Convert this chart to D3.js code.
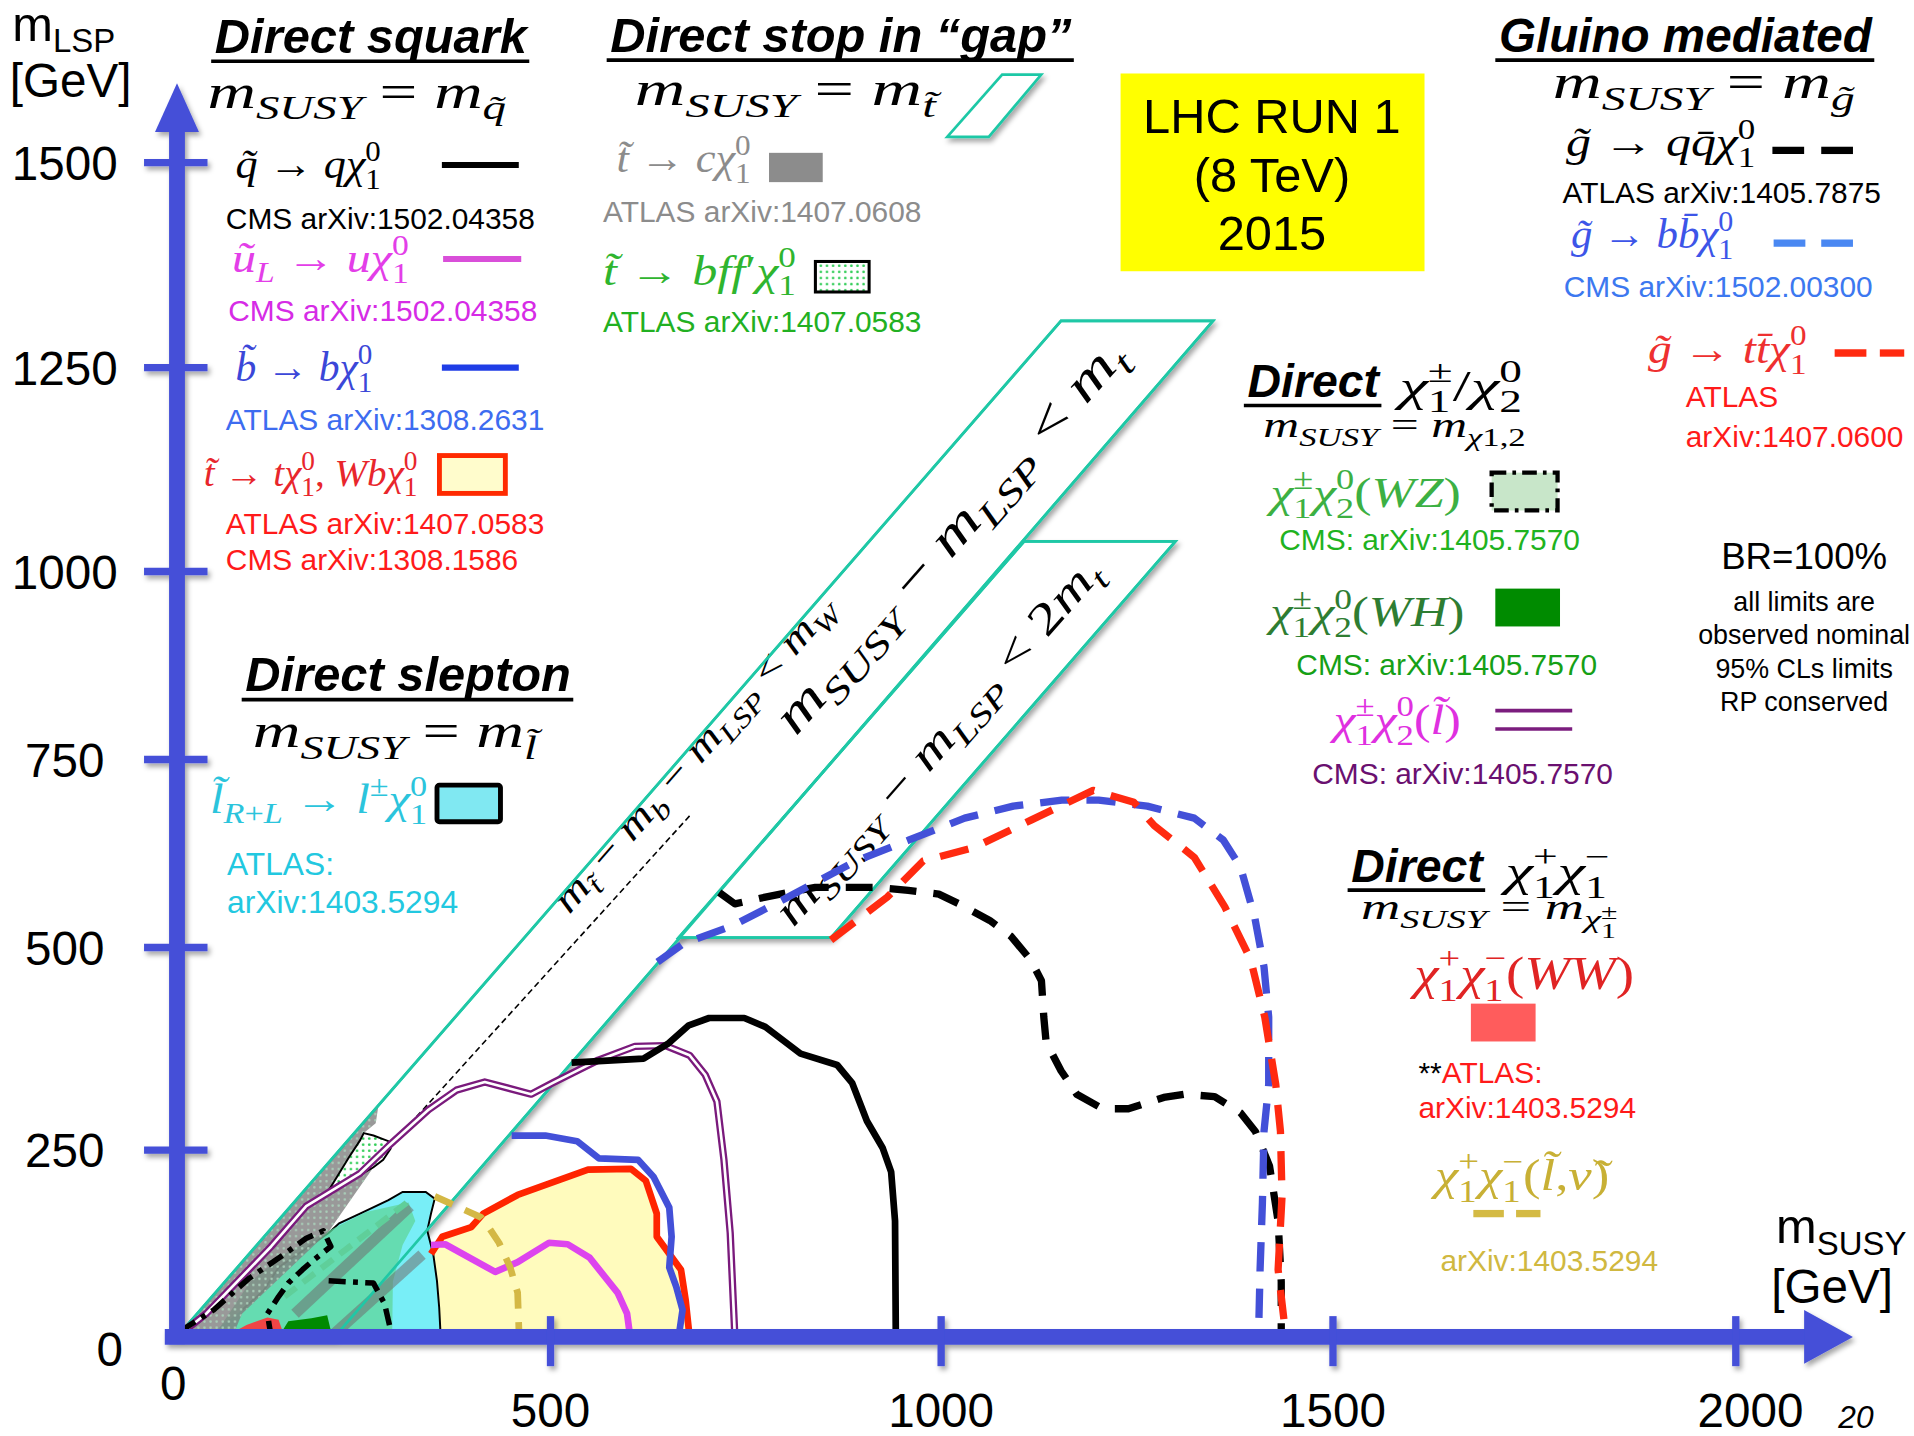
<!DOCTYPE html>
<html>
<head>
<meta charset="utf-8">
<script src="https://cdn.jsdelivr.net/npm/d3@7"></script>
<style>
  body { margin: 0; background: #fff; }
  text { white-space: pre; }
</style>
</head>
<body>
<script>
var svg_Width = 1914;
var svg_Height = 1436;

// axis ticks (GeV)
var xTicks = [0, 500, 1000, 1500, 2000];
var yTicks = [0, 250, 500, 750, 1000, 1250, 1500];

// limit contours, [m_SUSY, m_LSP] in GeV
var squarkQ = [[527,358],[619,363],[650,381],[677,404],[703,413],[748,413],[775,402],[820,369],[867,355],[886,333],[905,286],[925,253],[936,221],[941,155],[942,0]];
var squarkU = [[340,123],[359,124],[426,87],[456,100],[498,126],[522,124],[550,106],[586,59],[598,31],[602,0]];
var sbottom = [[448,268],[493,268],[534,261],[562,239],[612,237],[632,214],[652,173],[655,134],[652,93],[661,67],[669,36],[664,0]];
var stopT = [[340,111],[355,134],[394,147],[410,165],[456,190],[548,224],[603,225],[622,209],[636,165],[636,134],[667,90],[673,49],[678,0]];
var slepton = [[40,0],[87,36],[116,62],[136,93],[203,139],[217,152],[245,165],[283,183],[302,194],[333,194],[345,185],[340,165],[335,142],[343,111],[348,75],[351,39],[353,0]];
var gluinoQQ = [[716,573],[736,558],[775,567],[839,580],[918,580],[958,576],[997,571],[1023,558],[1062,536],[1089,515],[1114,485],[1128,459],[1131,414],[1134,383],[1153,348],[1173,319],[1206,301],[1239,301],[1284,315],[1310,319],[1349,316],[1382,296],[1401,273],[1419,229],[1430,155],[1434,74],[1434,0]];
var gluinoBB = [[637,482],[670,505],[733,529],[795,562],[889,614],[959,643],[1030,672],[1092,688],[1154,696],[1201,696],[1263,688],[1323,672],[1360,643],[1382,607],[1400,541],[1412,476],[1418,414],[1418,331],[1412,273],[1410,180],[1407,90],[1405,0]];
var gluinoTT = [[859,510],[892,536],[931,567],[977,615],[1042,633],[1114,669],[1194,709],[1246,693],[1272,662],[1323,620],[1362,554],[1395,485],[1413,414],[1427,331],[1433,273],[1435,188],[1430,90],[1440,0]];
var c1n2Slep = [[0,0],[39,31],[126,121],[173,175],[245,219],[283,255],[337,300],[374,324],[412,334],[474,319],[503,333],[561,361],[608,378],[647,379],[678,367],[698,343],[713,310],[722,237],[730,139],[736,0]];
var c1c1Slep = [[345,188],[374,175],[407,160],[417,147],[431,126],[446,93],[456,59],[458,0]];
var wzFill = [[49,0],[98,74],[144,111],[203,142],[253,167],[310,180],[319,155],[302,123],[289,74],[288,0]];
var wzLineA = [[5,8],[49,36],[96,78],[144,111],[173,132],[196,142],[206,121],[183,103],[168,90],[149,72],[136,54],[121,31],[126,0]];
var wzLineB = [[203,75],[263,72],[278,44],[288,0]];
var whFill = [[136,0],[149,21],[180,25],[201,29],[208,0]];
var wwFill = [[64,0],[93,16],[121,26],[136,23],[144,0]];
var stopC = [[0,0],[270,307],[266,283],[250,271],[283,261],[286,252],[263,227],[203,141],[87,31],[74,0]];
var stopBff = [[250,271],[263,268],[283,261],[286,252],[276,237],[263,227],[240,214],[217,206],[203,196],[230,240],[245,262]];
var greyStripeA = [[158,31],[312,175]];
var greyStripeB = [[206,0],[328,110]];
var wzDash = [[144,54],[312,183]];

// kinematic bands
var bandTop = [[0,0],[1153,1307],[1347,1307],[211,0]];
var bandTwoTop = [[1106,1037],[1299,1037],[859,513],[664,513]];
var mwLine = [[678,675],[289,259]];

var SERIF = "'Liberation Serif','DejaVu Serif',serif";
var SANS = "'Liberation Sans',Arial,Helvetica,sans-serif";
var AXIS = "#4450d8";
var TEAL = "#1fc8a6";

var svg = d3.select("body").append("svg")
  .attr("width", svg_Width)
  .attr("height", svg_Height)
  .attr("viewBox", "0 0 1568 1176");

var defs = svg.append("defs");
var shadow = defs.append("filter").attr("id", "shadow")
  .attr("filterUnits", "userSpaceOnUse")
  .attr("x", 0).attr("y", 0).attr("width", 1568).attr("height", 1176);
shadow.append("feDropShadow").attr("dx", 2).attr("dy", 3).attr("stdDeviation", 2)
  .attr("flood-color", "#000").attr("flood-opacity", 0.35);
var dots = defs.append("pattern").attr("id", "dots")
  .attr("width", 5).attr("height", 5).attr("patternUnits", "userSpaceOnUse");
dots.append("rect").attr("width", 5).attr("height", 5).attr("fill", "#fff");
dots.append("circle").attr("cx", 2.5).attr("cy", 2.5).attr("r", 1.1).attr("fill", "#2ecc55");
var greyDots = defs.append("pattern").attr("id", "greydots")
  .attr("width", 5).attr("height", 5).attr("patternUnits", "userSpaceOnUse");
greyDots.append("circle").attr("cx", 2.5).attr("cy", 2.5).attr("r", 1).attr("fill", "#a9cdb8");

// scales (the slide's axis is hand drawn, so piecewise)
var x = d3.scaleLinear().domain(xTicks).range([145, 451, 771, 1092, 1422]);
var y = d3.scaleLinear().domain(yTicks).range([1095, 942, 776, 622, 468, 301, 133]);

var line = d3.line().x(d => x(d[0])).y(d => y(d[1]));
var closedPath = d => line(d) + "Z";

var plot = svg.append("g");

// ---- math text helper
var UP = "0123456789()=−+<>,→±′/[]* ";
function parseMath(s) {
  var out = [], i = 0, ch = Array.from(s), buf = "";
  function grab() {
    var r = "";
    if (ch[i] === "{") { i++; while (ch[i] !== "}") { r += ch[i]; i++; } i++; return r; }
    r = ch[i]; i++;
    while (i < ch.length && /[\u0300-\u036f]/.test(ch[i])) { r += ch[i]; i++; }
    return r;
  }
  function flush() { if (buf) { out.push({t: buf, shift: 0, scale: 1}); buf = ""; } }
  while (i < ch.length) {
    var c = ch[i];
    if (c === "^" || c === "_") {
      flush(); i++;
      var a = grab();
      var other = c === "^" ? "_" : "^";
      if (ch[i] === other) {
        i++;
        var b = grab();
        var sup = c === "^" ? a : b, sub = c === "^" ? b : a;
        out.push({stack: [{t: sup, shift: -0.42, scale: 0.7}, {t: sub, shift: 0.26, scale: 0.7}]});
      } else if (c === "^") out.push({t: a, shift: -0.42, scale: 0.7});
      else out.push({t: a, shift: 0.24, scale: 0.7});
    } else { buf += c; i++; }
  }
  flush();
  return out;
}
function splitStyle(str) {
  var parts = [];
  Array.from(str).forEach(function (c) {
    if (/[\u0300-\u036f]/.test(c) && parts.length) { parts[parts.length - 1].s += c; return; }
    var up = UP.indexOf(c) >= 0;
    var last = parts[parts.length - 1];
    if (last && last.up === up) last.s += c;
    else parts.push({s: c, up: up});
  });
  return parts;
}
// width: stretch the formula sideways to the width it has on the slide
function mathText(g, x0, y0, size, color, toks, anchor, width) {
  if (typeof toks === "string") toks = parseMath(toks);
  var t = g.append("text").attr("x", x0).attr("y", y0)
    .attr("font-family", SERIF).attr("font-size", size).attr("fill", color)
    .attr("text-anchor", anchor || "start");
  var off = 0, pend = 0;
  function piece(str, shift, scale, dx) {
    var fs = size * scale, w = 0, first = true, target = shift * size;
    splitStyle(str).forEach(function (p) {
      var s = t.append("tspan").attr("font-size", fs)
        .attr("font-style", p.up ? "normal" : "italic").text(p.s);
      if (first) { s.attr("dy", target - off); if (dx) s.attr("dx", dx); first = false; }
      w += s.node().getComputedTextLength();
    });
    off = target;
    return w;
  }
  toks.forEach(function (k) {
    if (k.stack) {
      var a = k.stack[0], b = k.stack[1];
      var w1 = piece(a.t, a.shift, a.scale, pend); pend = 0;
      var w2 = piece(b.t, b.shift, b.scale, -w1);
      pend = w1 > w2 ? w1 - w2 : 0;
    } else { piece(k.t, k.shift, k.scale, pend); pend = 0; }
  });
  if (width) {
    var bb = t.node().getBBox();
    var k = width / bb.width;
    var cx = anchor === "middle" ? bb.x + bb.width / 2 : bb.x;
    t.attr("transform", "translate(" + cx + ",0) scale(" + k + ",1) translate(" + (-cx) + ",0)");
  }
  return t;
}
function label(g, x0, y0, size, color, str, anchor) {
  return g.append("text").attr("x", x0).attr("y", y0)
    .attr("font-family", SANS).attr("font-size", size).attr("fill", color)
    .attr("text-anchor", anchor || "start").text(str);
}
function heading(g, x0, y0, size, str) {
  var t = g.append("text").attr("x", x0).attr("y", y0)
    .attr("font-family", SANS).attr("font-size", size)
    .attr("font-weight", "bold").attr("font-style", "italic").text(str);
  var w = t.node().getComputedTextLength();
  g.append("line").attr("x1", x0 - 3).attr("x2", x0 + w + 2)
    .attr("y1", y0 + 7).attr("y2", y0 + 7).attr("stroke", "#000").attr("stroke-width", 3);
  return t;
}

// ---- kinematic bands
[bandTop, bandTwoTop].forEach(function (b) {
  plot.append("path").attr("d", closedPath(b))
    .attr("fill", "#fff").attr("stroke", TEAL).attr("stroke-width", 2.2)
    .attr("filter", "url(#shadow)");
});
plot.append("path").attr("d", line(mwLine))
  .attr("fill", "none").attr("stroke", "#000").attr("stroke-width", 1.3)
  .attr("stroke-dasharray", "5,3");

var ang = -48.8;
var bt1 = plot.append("g").attr("transform", "translate(576,624) rotate(" + ang + ")");
mathText(bt1, 0, 0, 32, "#000", "m_{t\u0303} − m_b − m_{LSP} < m_W", "middle", 335);
var bt2 = plot.append("g").attr("transform", "translate(788,448) rotate(" + ang + ")");
mathText(bt2, 0, 0, 42, "#000", "m_{SUSY} − m_{LSP} < m_t", "middle", 414);
var bt3 = plot.append("g").attr("transform", "translate(777,615) rotate(" + ang + ")");
mathText(bt3, 0, 0, 37, "#000", "m_{SUSY} − m_{LSP} < 2m_t", "middle", 387);

// ---- filled regions
plot.append("path").attr("d", line(stopT.concat([[353,0],[351,39],[348,75],[343,111]])) + "Z")
  .attr("fill", "#fffbbd").attr("stroke", "none");
plot.append("path").attr("d", closedPath(slepton))
  .attr("fill", "#78eef7").attr("stroke", "none");
plot.append("path").attr("d", line(slepton.slice(1)))
  .attr("fill", "none").attr("stroke", "#000").attr("stroke-width", 1.6);
plot.append("path").attr("d", closedPath(wzFill))
  .attr("fill", "#5fd69a").attr("opacity", 0.75);
plot.append("path").attr("d", closedPath(stopC))
  .attr("fill", "#7f7f7f").attr("opacity", 0.8);
plot.append("path").attr("d", closedPath(stopC))
  .attr("fill", "url(#greydots)");
plot.append("path").attr("d", closedPath(stopBff))
  .attr("fill", "url(#dots)").attr("stroke", "#000").attr("stroke-width", 1.6);
[greyStripeA, greyStripeB].forEach(function (s) {
  plot.append("path").attr("d", line(s)).attr("stroke", "#6f6f6f")
    .attr("stroke-width", 9).attr("opacity", 0.55).attr("fill", "none");
});
plot.append("path").attr("d", line(wzDash)).attr("stroke", "#5fcf9a")
  .attr("stroke-width", 5).attr("stroke-dasharray", "12,7").attr("fill", "none");
plot.append("path").attr("d", closedPath(wwFill)).attr("fill", "#f04545");
plot.append("path").attr("d", closedPath(whFill)).attr("fill", "#008a00");

// band outlines over the fills
[bandTop, bandTwoTop].forEach(function (b) {
  plot.append("path").attr("d", closedPath(b))
    .attr("fill", "none").attr("stroke", TEAL).attr("stroke-width", 2.2);
});

// ---- limit lines
function curve(data, color, width, dash) {
  var p = plot.append("path").attr("d", line(data))
    .attr("fill", "none").attr("stroke", color).attr("stroke-width", width)
    .attr("stroke-linejoin", "round");
  if (dash) p.attr("stroke-dasharray", dash);
  return p;
}
curve(stopT, "#ff2400", 5.5);
curve(squarkU, "#dd44ee", 5.5);
curve(sbottom, "#4350d8", 5.5);
curve(c1n2Slep, "#7a1a7c", 6);
curve(c1n2Slep, "#fff", 2.2);
curve(squarkQ, "#000", 5.5);
curve(c1c1Slep, "#d4b845", 5.5, "16,11");
curve(wzLineA, "#000", 4.5, "14,6,4,6");
curve(wzLineB, "#000", 4.5, "14,6,4,6");
curve(gluinoQQ, "#000", 6, "22,14");
curve(gluinoBB, "#4350d8", 6, "24,14");
curve(gluinoTT, "#ff2a10", 6, "24,14");

// ---- axes
var axes = svg.append("g").attr("filter", "url(#shadow)");
axes.append("line").attr("x1", x(0)).attr("x2", x(0)).attr("y1", y(0) + 6).attr("y2", 106)
  .attr("stroke", AXIS).attr("stroke-width", 13);
axes.append("path").attr("d", "M" + (x(0) - 18) + ",108L" + (x(0) + 18) + ",108L" + x(0) + ",68Z")
  .attr("fill", AXIS);
axes.append("line").attr("x1", 135).attr("x2", 1482).attr("y1", y(0)).attr("y2", y(0))
  .attr("stroke", AXIS).attr("stroke-width", 13);
axes.append("path").attr("d", "M1478," + (y(0) - 22) + "L1478," + (y(0) + 22) + "L1518," + y(0) + "Z")
  .attr("fill", AXIS);
axes.selectAll(".yt").data(yTicks.slice(1)).enter().append("line")
  .attr("x1", 118).attr("x2", 170).attr("y1", d => y(d)).attr("y2", d => y(d))
  .attr("stroke", AXIS).attr("stroke-width", 6);
axes.selectAll(".xt").data(xTicks.slice(1)).enter().append("line")
  .attr("x1", d => x(d)).attr("x2", d => x(d)).attr("y1", y(0) - 17).attr("y2", y(0) + 24)
  .attr("stroke", AXIS).attr("stroke-width", 6);

var tl = svg.append("g");
tl.selectAll(".yl").data(yTicks.slice(1)).enter().append("text")
  .attr("x", 53).attr("y", d => y(d) + 14).attr("text-anchor", "middle")
  .attr("font-family", SANS).attr("font-size", 39).text(d => d);
label(tl, 90, 1119, 39, "#000", "0", "middle");
tl.selectAll(".xl").data(xTicks.slice(1)).enter().append("text")
  .attr("x", d => x(d) + (d === 2000 ? 12 : 0)).attr("y", 1169).attr("text-anchor", "middle")
  .attr("font-family", SANS).attr("font-size", 39).text(d => d);
label(tl, 142, 1147, 39, "#000", "0", "middle");

var t1 = tl.append("text").attr("x", 10).attr("y", 33).attr("font-family", SANS).attr("font-size", 40);
t1.append("tspan").text("m");
t1.append("tspan").attr("font-size", 27).attr("dy", 9).text("LSP");
label(tl, 8, 79, 39, "#000", "[GeV]");
var t2 = tl.append("text").attr("x", 1455).attr("y", 1018).attr("font-family", SANS).attr("font-size", 40);
t2.append("tspan").text("m");
t2.append("tspan").attr("font-size", 27).attr("dy", 10).text("SUSY");
label(tl, 1451, 1067, 39, "#000", "[GeV]");
tl.append("text").attr("x", 1506).attr("y", 1170).attr("font-family", SANS)
  .attr("font-size", 26).attr("font-style", "italic").text("20");

// ---- legends
var lg = svg.append("g");

// direct squark
heading(lg, 176, 43, 40, "Direct squark");
mathText(lg, 170, 88, 40, "#000", "m_{SUSY} = m_{q\u0303}", "start", 245);
mathText(lg, 193, 146, 34, "#000", "q\u0303 → qχ^0_1", "start", 119);
lg.append("line").attr("x1", 362).attr("x2", 425).attr("y1", 135).attr("y2", 135).attr("stroke", "#000").attr("stroke-width", 5);
label(lg, 185, 187, 24.5, "#000", "CMS arXiv:1502.04358");
mathText(lg, 190, 223, 34, "#e33ee8", "u\u0303_L → uχ^0_1", "start", 145);
lg.append("line").attr("x1", 363).attr("x2", 427).attr("y1", 212).attr("y2", 212).attr("stroke", "#d94fd9").attr("stroke-width", 5);
label(lg, 187, 263, 24.5, "#d62be6", "CMS arXiv:1502.04358");
mathText(lg, 193, 312, 34, "#3b47d8", "b\u0303 → bχ^0_1", "start", 112);
lg.append("line").attr("x1", 362).attr("x2", 425).attr("y1", 301).attr("y2", 301).attr("stroke", "#1f3de6").attr("stroke-width", 5);
label(lg, 185, 352, 24.5, "#3d6cf0", "ATLAS arXiv:1308.2631");
mathText(lg, 167, 398, 31, "#e8262c", "t\u0303 → tχ^0_1, Wbχ^0_1", "start", 175);
lg.append("rect").attr("x", 360).attr("y", 373).attr("width", 54).attr("height", 31)
  .attr("fill", "#fffccc").attr("stroke", "#ff2a00").attr("stroke-width", 4);
label(lg, 185, 437, 24.5, "#ff1a1a", "ATLAS arXiv:1407.0583");
label(lg, 185, 467, 24.5, "#ff1a1a", "CMS arXiv:1308.1586");

// direct stop in gap
heading(lg, 500, 42, 40, "Direct stop in \u201cgap\u201d");
mathText(lg, 520, 86, 40, "#000", "m_{SUSY} = m_{t\u0303}", "start", 252);
lg.append("path").attr("d", "M776,112L821,61L853,61L810,112Z")
  .attr("fill", "#fff").attr("stroke", TEAL).attr("stroke-width", 2.2).attr("filter", "url(#shadow)");
mathText(lg, 505, 141, 34, "#8c8c8c", "t\u0303 → cχ^0_1", "start", 110);
lg.append("rect").attr("x", 630).attr("y", 125).attr("width", 44).attr("height", 24).attr("fill", "#8c8c8c");
label(lg, 494, 182, 24.5, "#8c8c8c", "ATLAS arXiv:1407.0608");
mathText(lg, 494, 233, 34, "#2fb52f", "t\u0303 → bff′χ^0_1", "start", 158);
lg.append("rect").attr("x", 668).attr("y", 214).attr("width", 44).attr("height", 25)
  .attr("fill", "url(#dots)").attr("stroke", "#000").attr("stroke-width", 2.5);
label(lg, 494, 272, 24.5, "#22b022", "ATLAS arXiv:1407.0583");

// run label
lg.append("rect").attr("x", 918).attr("y", 60).attr("width", 249).attr("height", 162).attr("fill", "#ffff00");
["LHC RUN 1", "(8 TeV)", "2015"].forEach(function (s, i) {
  label(lg, 1042, 109 + i * 48, 40, "#000", s, "middle");
});

// gluino mediated
heading(lg, 1228, 42, 39, "Gluino mediated");
mathText(lg, 1272, 80, 40, "#000", "m_{SUSY} = m_{g\u0303}", "start", 248);
mathText(lg, 1283, 128, 34, "#000", "g\u0303 → qq\u0304χ^0_1", "start", 155);
[[1452, 1478], [1492, 1518]].forEach(function (s) {
  lg.append("line").attr("x1", s[0]).attr("x2", s[1]).attr("y1", 123).attr("y2", 123).attr("stroke", "#000").attr("stroke-width", 6);
});
label(lg, 1280, 166, 24.5, "#000", "ATLAS arXiv:1405.7875");
mathText(lg, 1287, 203, 34, "#3d55e8", "g\u0303 → bb\u0304χ^0_1", "start", 133);
[[1453, 1479], [1492, 1518]].forEach(function (s) {
  lg.append("line").attr("x1", s[0]).attr("x2", s[1]).attr("y1", 199).attr("y2", 199).attr("stroke", "#4a88f2").attr("stroke-width", 6);
});
label(lg, 1281, 243, 24.5, "#3c78f0", "CMS arXiv:1502.00300");
mathText(lg, 1350, 297, 34, "#ee3030", "g\u0303 → tt\u0304χ^0_1", "start", 130);
[[1503, 1529], [1540, 1560]].forEach(function (s) {
  lg.append("line").attr("x1", s[0]).attr("x2", s[1]).attr("y1", 289).attr("y2", 289).attr("stroke", "#ff2a10").attr("stroke-width", 6);
});
label(lg, 1381, 333, 24.5, "#ff1a1a", "ATLAS");
label(lg, 1381, 366, 24.5, "#ff1a1a", "arXiv:1407.0600");

// direct chargino / neutralino
heading(lg, 1022, 325, 38, "Direct");
mathText(lg, 1145, 328, 37, "#000", "χ^±_1/χ^0_2", "start", 105);
mathText(lg, 1035, 358, 30, "#000", parseMath("m_{SUSY} = m_{χ1,2}"), "start", 215);
mathText(lg, 1040, 415, 34, "#3cb043", "χ^±_1χ^0_2(WZ)", "start", 160);
lg.append("rect").attr("x", 1222).attr("y", 387).attr("width", 54).attr("height", 31)
  .attr("fill", "#c8e6c9").attr("stroke", "#000").attr("stroke-width", 3.5).attr("stroke-dasharray", "12,5,3,5");
label(lg, 1048, 450, 24.5, "#1fb31f", "CMS: arXiv:1405.7570");
mathText(lg, 1040, 513, 34, "#2e7d32", "χ^±_1χ^0_2(WH)", "start", 163);
lg.append("rect").attr("x", 1225).attr("y", 482).attr("width", 53).attr("height", 31).attr("fill", "#008b00");
label(lg, 1062, 553, 24.5, "#16a016", "CMS: arXiv:1405.7570");
mathText(lg, 1092, 601, 34, "#df30e0", "χ^±_1χ^0_2(l\u0303)", "start", 108);
[582, 597].forEach(function (yy) {
  lg.append("line").attr("x1", 1225).attr("x2", 1288).attr("y1", yy).attr("y2", yy).attr("stroke", "#7b1d7e").attr("stroke-width", 3);
});
label(lg, 1075, 642, 24.5, "#6a1070", "CMS: arXiv:1405.7570");

// notes
label(lg, 1478, 466, 30, "#000", "BR=100%", "middle");
["all limits are", "observed nominal", "95% CLs limits", "RP conserved"].forEach(function (s, i) {
  label(lg, 1478, 500 + i * 27.5, 22, "#000", s, "middle");
});

// direct chargino pair
heading(lg, 1107, 722, 38, "Direct");
mathText(lg, 1232, 726, 37, "#000", "χ^+_1χ^−_1", "start", 90);
mathText(lg, 1115, 753, 30, "#000", parseMath("m_{SUSY} = m_{χ}").concat([
  {stack: [{t: "±", shift: -0.02, scale: 0.55}, {t: "1", shift: 0.5, scale: 0.55}]}]), "start", 210);
mathText(lg, 1158, 810, 38, "#e02424", "χ^+_1χ^−_1(WW)", "start", 184);
lg.append("rect").attr("x", 1205).attr("y", 822).attr("width", 53).attr("height", 31).attr("fill", "#ff5c5c");
var at = lg.append("text").attr("x", 1162).attr("y", 887).attr("font-family", SANS).attr("font-size", 24.5);
at.append("tspan").attr("fill", "#000").text("**");
at.append("tspan").attr("fill", "#ff1a1a").text("ATLAS:");
label(lg, 1162, 916, 24.5, "#ff1a1a", "arXiv:1403.5294");
mathText(lg, 1175, 975, 36, "#c8b035", "χ^+_1χ^−_1(l\u0303,ν\u0303)", "start", 150);
[[1207, 1232], [1242, 1262]].forEach(function (s) {
  lg.append("line").attr("x1", s[0]).attr("x2", s[1]).attr("y1", 994).attr("y2", 994).attr("stroke", "#d4ba44").attr("stroke-width", 6);
});
label(lg, 1180, 1041, 24.5, "#d0b840", "arXiv:1403.5294");

// direct slepton
heading(lg, 201, 566, 40, "Direct slepton");
mathText(lg, 207, 612, 40, "#000", "m_{SUSY} = m_{l\u0303}", "start", 238);
mathText(lg, 172, 666, 34, "#2bc4dc", "l\u0303_{R+L} → l^±χ^0_1", "start", 178);
lg.append("rect").attr("x", 358).attr("y", 643).attr("width", 52).attr("height", 30).attr("rx", 2)
  .attr("fill", "#80e8f2").attr("stroke", "#000").attr("stroke-width", 4);
label(lg, 186, 717, 26, "#22c8e0", "ATLAS:");
label(lg, 186, 748, 26, "#22c8e0", "arXiv:1403.5294");
</script>
</body>
</html>
